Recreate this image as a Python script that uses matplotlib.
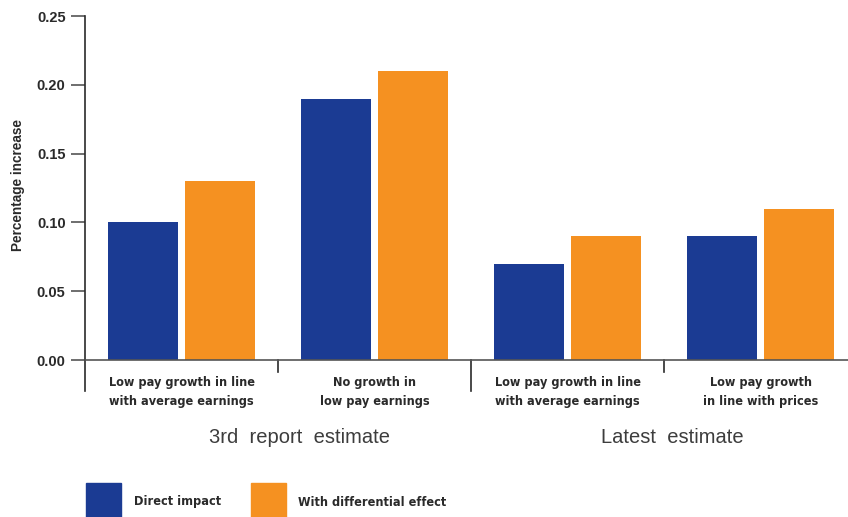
import numpy as np
import matplotlib
matplotlib.use("Agg")
import matplotlib.pyplot as plt
import matplotlib.transforms as mtransforms

# donnees
categories = ["Low pay growth in line\nwith average earnings",
              "No growth in\nlow pay earnings",
              "Low pay growth in line\nwith average earnings",
              "Low pay growth\nin line with prices"]
direct_impact = [0.10, 0.19, 0.07, 0.09]
differential = [0.13, 0.21, 0.09, 0.11]
groups = ["3rd  report  estimate", "Latest  estimate"]
series_names = ["Direct impact", "With differential effect"]
yticks = [0.00, 0.05, 0.10, 0.15, 0.20, 0.25]

blue = "#1b3b93"
orange = "#f59121"
dark = "#2a2a2a"
cond = dict(family="DejaVu Sans", stretch="condensed", fontweight="bold")

fig = plt.figure(figsize=(8.48, 5.17), dpi=100)
ax = fig.add_axes([85/848, 1-360/517, 763/848, 344/517])

x = np.arange(len(categories))
w = 0.363
ax.bar(x - 0.2, direct_impact, w, color=blue)
ax.bar(x + 0.2, differential, w, color=orange)

ax.set_xlim(-0.5, 3.453)
ax.set_ylim(0, 0.25)
ax.set_yticks(yticks)
ax.set_yticklabels([f"{t:.2f}" for t in yticks], fontsize=10.5, fontweight="bold",
                   family="Liberation Sans", color=dark)
ax.tick_params(axis="y", length=10, width=1.2, color="#555555", pad=4)
ax.set_xticks([])
for s in ["top", "right"]:
    ax.spines[s].set_visible(False)
ax.spines["left"].set_color(dark)
ax.spines["bottom"].set_color("#555555")
ax.spines["left"].set_linewidth(1.2)
ax.spines["bottom"].set_linewidth(1.2)

ax.set_ylabel("Percentage increase", fontsize=9.8, fontweight="bold", family="Liberation Sans",
              color=dark)
ax.yaxis.set_label_coords(-0.078, 0.509)

# separateurs sous l'axe
trans = mtransforms.blended_transform_factory(ax.transData, ax.transAxes)
for i in range(len(categories)):
    depth = -0.09 if i % 2 == 0 else -0.035
    ax.plot([i - 0.5, i - 0.5], [0, depth], color=dark, lw=1.2, transform=trans, clip_on=False)

for i, lab in enumerate(categories):
    ax.text(i, -0.046, lab, transform=trans, ha="center", va="top", fontsize=9.1,
            color=dark, linespacing=1.65, **cond)

for xg, g in zip([0.609, 2.541], groups):
    ax.text(xg, -0.224, g, transform=trans, ha="center", va="center", fontsize=14.5,
            family="Liberation Sans", color="#3d3d3d")

# legende
fig.patches.append(plt.Rectangle((86/848, 0), 35/848, 34/517, transform=fig.transFigure,
                                 color=blue))
fig.patches.append(plt.Rectangle((251/848, 0), 35/848, 34/517, transform=fig.transFigure,
                                 color=orange))
fig.text(134/848, 1-502/517, series_names[0], fontsize=9.1, color=dark, va="center", **cond)
fig.text(298/848, 1-502/517, series_names[1], fontsize=9.1, color=dark, va="center", **cond)

fig.savefig("out.png", dpi=100)
